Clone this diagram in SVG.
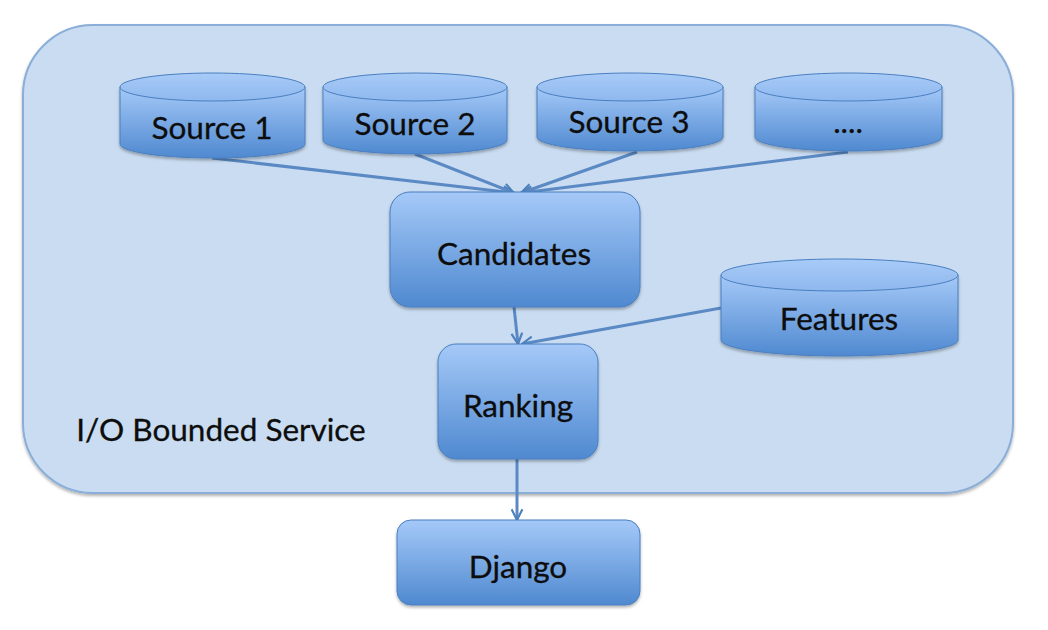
<svg xmlns="http://www.w3.org/2000/svg" width="1048" height="630" viewBox="0 0 1048 630">
  <defs>
    <linearGradient id="g" x1="0" y1="0" x2="0" y2="1">
      <stop offset="0" stop-color="#a5c9f8"/>
      <stop offset="1" stop-color="#4f89d0"/>
    </linearGradient>
    <linearGradient id="gt" x1="0" y1="0" x2="0" y2="1">
      <stop offset="0" stop-color="#a8cbf8"/>
      <stop offset="1" stop-color="#8fb8ee"/>
    </linearGradient>
    <filter id="sh" x="-10%" y="-10%" width="120%" height="130%">
      <feDropShadow dx="0" dy="2" stdDeviation="1.5" flood-color="#000" flood-opacity="0.3"/>
    </filter>
    <marker id="arr" viewBox="0 0 12 12" refX="11" refY="6" markerWidth="13" markerHeight="13" markerUnits="userSpaceOnUse" orient="auto">
      <path d="M1,1 L11,6 L1,11" fill="none" stroke="#4f81bd" stroke-width="2"/>
    </marker>
    <style>
      .node { fill: url(#g); stroke: #4a7fc0; stroke-width: 1; filter: url(#sh); }
      .top { fill: url(#gt); stroke: #4a7fc0; stroke-width: 1; }
      .lbl { font-family: Lato, "Open Sans", "Liberation Sans", sans-serif; font-size: 31.5px; fill: #0d0d0d; text-anchor: middle; stroke: #0d0d0d; stroke-width: 0.3; }
      .conn { fill: none; stroke: #5a89c4; stroke-width: 3; marker-end: url(#arr); }
    </style>
  </defs>

  <g id="container">
    <rect x="23" y="25" width="990" height="468" rx="70" ry="70" fill="#c9dcf1" stroke="#8aaed8" stroke-width="2" filter="url(#sh)"/>
    <text class="lbl" x="221" y="441">I/O Bounded Service</text>
  </g>

  <g id="connectors">
    <line class="conn" x1="212" y1="158" x2="514" y2="193"/>
    <line class="conn" x1="415" y1="154" x2="514" y2="193"/>
    <line class="conn" x1="637" y1="152" x2="521" y2="193"/>
    <line class="conn" x1="848" y1="152" x2="521" y2="193"/>
    <line class="conn" x1="514" y1="307" x2="518" y2="344"/>
    <line class="conn" x1="721" y1="308" x2="522" y2="344"/>
    <line class="conn" x1="517" y1="459" x2="517" y2="520"/>
  </g>

  <g id="source1">
    <path class="node" d="M120,87 L120,144 A92.5,14 0 0 0 305,144 L305,87 Z"/>
    <ellipse class="top" cx="212.5" cy="87" rx="92.5" ry="14"/>
    <text class="lbl" x="212" y="139">Source 1</text>
  </g>
  <g id="source2">
    <path class="node" d="M323,87 L323,140 A92,14 0 0 0 507,140 L507,87 Z"/>
    <ellipse class="top" cx="415" cy="87" rx="92" ry="14"/>
    <text class="lbl" x="415" y="135">Source 2</text>
  </g>
  <g id="source3">
    <path class="node" d="M537,87 L537,137 A93,14 0 0 0 723,137 L723,87 Z"/>
    <ellipse class="top" cx="630" cy="87" rx="93" ry="14"/>
    <text class="lbl" x="629" y="133">Source 3</text>
  </g>
  <g id="source4">
    <path class="node" d="M755,87 L755,137 A93.5,14 0 0 0 942,137 L942,87 Z"/>
    <ellipse class="top" cx="848.5" cy="87" rx="93.5" ry="14"/>
    <text class="lbl" x="848" y="133">....</text>
  </g>

  <g id="candidates">
    <rect class="node" x="390" y="192" width="250" height="115" rx="20" ry="20"/>
    <text class="lbl" x="514" y="265">Candidates</text>
  </g>

  <g id="features">
    <path class="node" d="M721,275 L721,340 A118.5,16 0 0 0 958,340 L958,275 Z"/>
    <ellipse class="top" cx="839.5" cy="275" rx="118.5" ry="16"/>
    <text class="lbl" x="839" y="330">Features</text>
  </g>

  <g id="ranking">
    <rect class="node" x="438" y="344" width="160" height="115" rx="18" ry="18"/>
    <text class="lbl" x="518" y="417">Ranking</text>
  </g>

  <g id="django">
    <rect class="node" x="397" y="520" width="243" height="85" rx="14" ry="14"/>
    <text class="lbl" x="518" y="578">Django</text>
  </g>
</svg>
